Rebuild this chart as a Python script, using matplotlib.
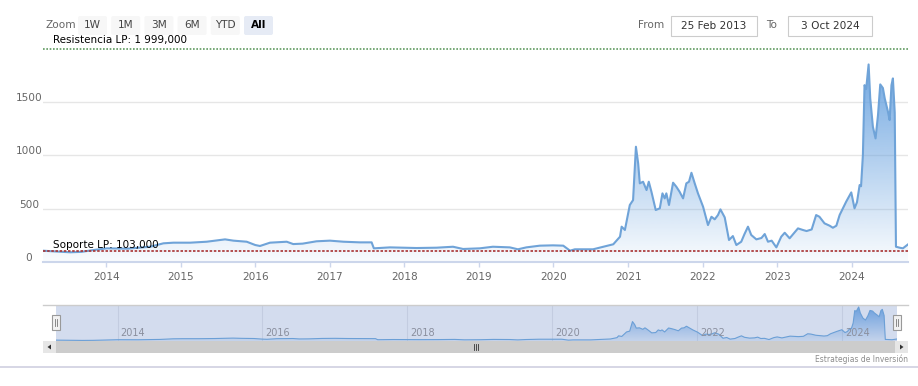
import matplotlib
matplotlib.use('Agg')
import matplotlib.pyplot as plt
import matplotlib.dates as mdates
import matplotlib.transforms as mtrans
from matplotlib.colors import to_rgb
from matplotlib.patches import FancyBboxPatch, Rectangle, Polygon
import numpy as np
import pandas as pd

# ---- data ----
dates = pd.to_datetime([
    "2013-02-25", "2013-04-15", "2013-07-08", "2013-09-01", "2013-10-30",
    "2014-01-04", "2014-04-15", "2014-08-04", "2014-10-08", "2014-11-26",
    "2015-02-16", "2015-05-08", "2015-08-06", "2015-09-16", "2015-11-20",
    "2016-01-01", "2016-01-24", "2016-03-13", "2016-06-03", "2016-07-05",
    "2016-08-20", "2016-10-27", "2017-01-01", "2017-03-08", "2017-05-28",
    "2017-07-24", "2017-08-04", "2017-10-22", "2018-03-01", "2018-06-07",
    "2018-08-27", "2018-10-15", "2019-01-05", "2019-03-10", "2019-06-01",
    "2019-07-11", "2019-08-21", "2019-10-26", "2019-12-30", "2020-02-18",
    "2020-03-22", "2020-04-15", "2020-07-13", "2020-09-01", "2020-10-20",
    "2020-11-22", "2020-11-30", "2020-12-16", "2021-01-09", "2021-01-25",
    "2021-02-08", "2021-02-19", "2021-02-27", "2021-03-15", "2021-04-01",
    "2021-04-12", "2021-04-25", "2021-05-16", "2021-06-05", "2021-06-18",
    "2021-06-29", "2021-07-07", "2021-07-20", "2021-08-09", "2021-08-25",
    "2021-09-10", "2021-09-27", "2021-10-13", "2021-10-26", "2021-11-07",
    "2021-11-23", "2021-12-09", "2022-01-03", "2022-01-27", "2022-02-13",
    "2022-03-01", "2022-03-17", "2022-03-29", "2022-04-19", "2022-05-10",
    "2022-05-29", "2022-06-15", "2022-07-09", "2022-07-25", "2022-08-11",
    "2022-08-27", "2022-09-21", "2022-10-16", "2022-11-01", "2022-11-17",
    "2022-12-05", "2022-12-28", "2023-01-21", "2023-02-07", "2023-03-03",
    "2023-04-13", "2023-05-07", "2023-05-25", "2023-06-19", "2023-07-11",
    "2023-07-27", "2023-08-21", "2023-09-15", "2023-10-01", "2023-10-18",
    "2023-11-03", "2023-11-19", "2023-12-05", "2023-12-30", "2024-01-15",
    "2024-01-27", "2024-02-09", "2024-02-16", "2024-02-25", "2024-03-04",
    "2024-03-12", "2024-03-24", "2024-04-01", "2024-04-14", "2024-04-27",
    "2024-05-09", "2024-05-20", "2024-06-02", "2024-06-11", "2024-06-27",
    "2024-07-05", "2024-07-14", "2024-07-21", "2024-07-30", "2024-08-05",
    "2024-08-23", "2024-09-08", "2024-10-03",
])
values = [
    106, 100, 91, 95, 112,
    128, 125, 143, 175, 181,
    181, 190, 212, 200, 190,
    159, 150, 181, 190, 168,
    172, 194, 200, 190, 184,
    184, 128, 137, 131, 134,
    143, 122, 128, 143, 137,
    119, 137, 153, 156, 153,
    106, 119, 119, 143, 166,
    237, 331, 300, 534, 580,
    1080, 924, 737, 752, 674,
    752, 658, 487, 503, 643,
    596, 643, 534, 743, 705,
    658, 596, 737, 752, 836,
    737, 643, 518, 346, 424,
    400, 440, 493, 418, 206,
    243, 159, 190, 262, 331,
    253, 212, 225, 262, 190,
    200, 137, 237, 274, 222,
    315, 300, 290, 305, 440,
    424, 362, 340, 321, 340,
    440, 502, 565, 652, 503,
    560, 721, 710, 1002, 1657,
    1620, 1851, 1533, 1267, 1158,
    1376, 1664, 1630, 1533, 1407,
    1330, 1657, 1720, 1400, 143,
    134, 128, 165,
]

resistencia = 1999
soporte = 103
ytick_vals = [0, 500, 1000, 1500]
year_ticks = list(range(2014, 2025))
nav_year_ticks = [2014, 2016, 2018, 2020, 2022, 2024]
buttons = ["1W", "1M", "3M", "6M", "YTD", "All"]
date_from = "25 Feb 2013"
date_to = "3 Oct 2024"

W, H = 918, 386
LINE = "#6fa3d8"
FONT = "DejaVu Sans"
plt.rcParams['font.family'] = [FONT]


def rect(l, t, r, b):
    return [l / W, 1 - b / H, (r - l) / W, (b - t) / H]


def gradient_area(ax, x, y, base, top, color, a_top, a_bot):
    poly = ax.fill_between(x, y, base, facecolor='none', edgecolor='none')
    path = poly.get_paths()[0]
    rgba = np.zeros((256, 1, 4))
    rgba[..., :3] = to_rgb(color)
    rgba[:, 0, 3] = np.linspace(a_bot, a_top, 256)
    im = ax.imshow(rgba, extent=[x[0], x[-1], base, top], origin='lower',
                   aspect='auto', zorder=1, interpolation='bilinear')
    im.set_clip_path(path, transform=ax.transData)


x = mdates.date2num(dates)
fig = plt.figure(figsize=(W / 100, H / 100), dpi=100)

# ---- main chart ----
ax = fig.add_axes(rect(43, 40, 908, 262))
gradient_area(ax, x, values, 0, max(values), "#6aa3e0", 0.95, 0.04)
ax.plot(x, values, color=LINE, lw=1.5, zorder=3)
ax.axhline(resistencia, color="#5f9a5f", ls=(0, (1, 1)), lw=1.2, zorder=4)
ax.axhline(soporte, color="#a83232", ls=(0, (1.5, 1)), lw=1.2, zorder=4)
ax.set_xlim(x[0], x[-1])
ax.set_ylim(0, 2080)
ax.set_yticks(ytick_vals)
ax.yaxis.grid(True, color="#e6e6e6", lw=1)
ax.set_axisbelow(True)
ax.tick_params(axis='y', length=0, labelleft=False)
yoff = mtrans.offset_copy(ax.get_yaxis_transform(), fig=fig, y=4, units='dots')
for v in ytick_vals:
    ax.text(-14 / 865, v, str(v), transform=yoff, ha='center', va='center',
            fontsize=7.6, color="#666666", clip_on=False)
ax.set_xticks(mdates.date2num([pd.Timestamp(f"{y}-01-01") for y in year_ticks]))
ax.set_xticklabels([str(y) for y in year_ticks])
ax.tick_params(axis='x', length=3.5, width=1, color="#ccd6eb", pad=4,
               labelcolor="#666666", labelsize=7.6)
for s in ["top", "right", "left"]:
    ax.spines[s].set_visible(False)
ax.spines["bottom"].set_color("#ccd6eb")
ax.spines["bottom"].set_linewidth(1.5)

# ---- navigator ----
nav = fig.add_axes(rect(56, 305, 897, 341))
nav.set_facecolor("#d3dcee")
gradient_area(nav, x, values, 0, max(values), "#5f98dc", 0.9, 0.1)
nav.plot(x, values, color="#6b9fd6", lw=0.8, zorder=3)
nav.set_xlim(x[0], x[-1])
nav.set_ylim(60, 1950)
nav_x = mdates.date2num([pd.Timestamp(f"{y}-01-01") for y in nav_year_ticks])
nav.set_xticks(nav_x)
nav.xaxis.grid(True, color="#c3cce0", lw=0.8)
nav.set_axisbelow(True)
nav.set_yticks([])
nav.tick_params(axis='x', length=0, labelbottom=False)
for s in nav.spines.values():
    s.set_visible(False)
noff = mtrans.offset_copy(nav.get_xaxis_transform(), fig=fig, x=3, units='dots')
for xv, yv in zip(nav_x, nav_year_ticks):
    nav.text(xv, 0.22, str(yv), transform=noff, ha='left', va='center',
             fontsize=7, color="#8a8f9e")

# ---- overlay (toolbar, labels, scrollbar) in pixel coords ----
ov = fig.add_axes([0, 0, 1, 1])
ov.set_xlim(0, W)
ov.set_ylim(H, 0)
ov.axis('off')
ov.patch.set_alpha(0)

ov.text(45, 25, "Zoom", ha='left', va='center', fontsize=7.6, color="#666666")
for i, b in enumerate(buttons):
    left = 78 + i * 33.2
    sel = b == "All"
    ov.add_patch(FancyBboxPatch((left, 16), 29, 19,
                                boxstyle="round,pad=0,rounding_size=2",
                                fc="#e6ebf5" if sel else "#f7f7f7", ec="none"))
    ov.text(left + 14.5, 25.5, b, ha='center', va='center', fontsize=7.6,
            color="#000000" if sel else "#444444",
            fontweight='bold' if sel else 'normal')

ov.text(638, 25, "From", ha='left', va='center', fontsize=7.6, color="#666666")
ov.add_patch(Rectangle((671, 16), 86, 20, fc="white", ec="#cccccc", lw=0.8))
ov.text(714, 26, date_from, ha='center', va='center', fontsize=7.6, color="#333333")
ov.text(766, 25, "To", ha='left', va='center', fontsize=7.6, color="#666666")
ov.add_patch(Rectangle((788, 16), 84, 20, fc="white", ec="#cccccc", lw=0.8))
ov.text(830, 26, date_to, ha='center', va='center', fontsize=7.6, color="#333333")

ov.text(53, 40, f"Resistencia LP: 1 999,000", ha='left', va='center',
        fontsize=7.5, color="black")
ov.text(53, 245, f"Soporte LP: 103,000", ha='left', va='center',
        fontsize=7.5, color="black")

# navigator outline + handles
ov.plot([43, 908], [305, 305], color="#cccccc", lw=1)
for hx in (56, 897):
    ov.add_patch(Rectangle((hx - 4, 315), 8, 15, fc="#f2f2f2", ec="#999999", lw=0.8))
    ov.plot([hx - 1, hx - 1], [319, 326], color="#777777", lw=0.6)
    ov.plot([hx + 1, hx + 1], [319, 326], color="#777777", lw=0.6)

# scrollbar
ov.add_patch(Rectangle((43, 341), 865, 12, fc="#e6e6e6", ec="none"))
ov.add_patch(Rectangle((56, 341), 839, 12, fc="#cccccc", ec="none"))
ov.add_patch(Polygon([[47.5, 347], [51, 344.5], [51, 349.5]], closed=True, fc="#333333"))
ov.add_patch(Polygon([[903.5, 347], [900, 344.5], [900, 349.5]], closed=True, fc="#333333"))
for rx in (473.5, 475.5, 477.5):
    ov.plot([rx, rx], [344, 350], color="#333333", lw=0.6)

ov.text(908, 359, "Estrategias de Inversión", ha='right', va='center',
        fontsize=5.5, color="#8c8c8c")
ov.plot([0, W], [367, 367], color="#cfd0e0", lw=1.2)

fig.savefig("out.png", dpi=100)
